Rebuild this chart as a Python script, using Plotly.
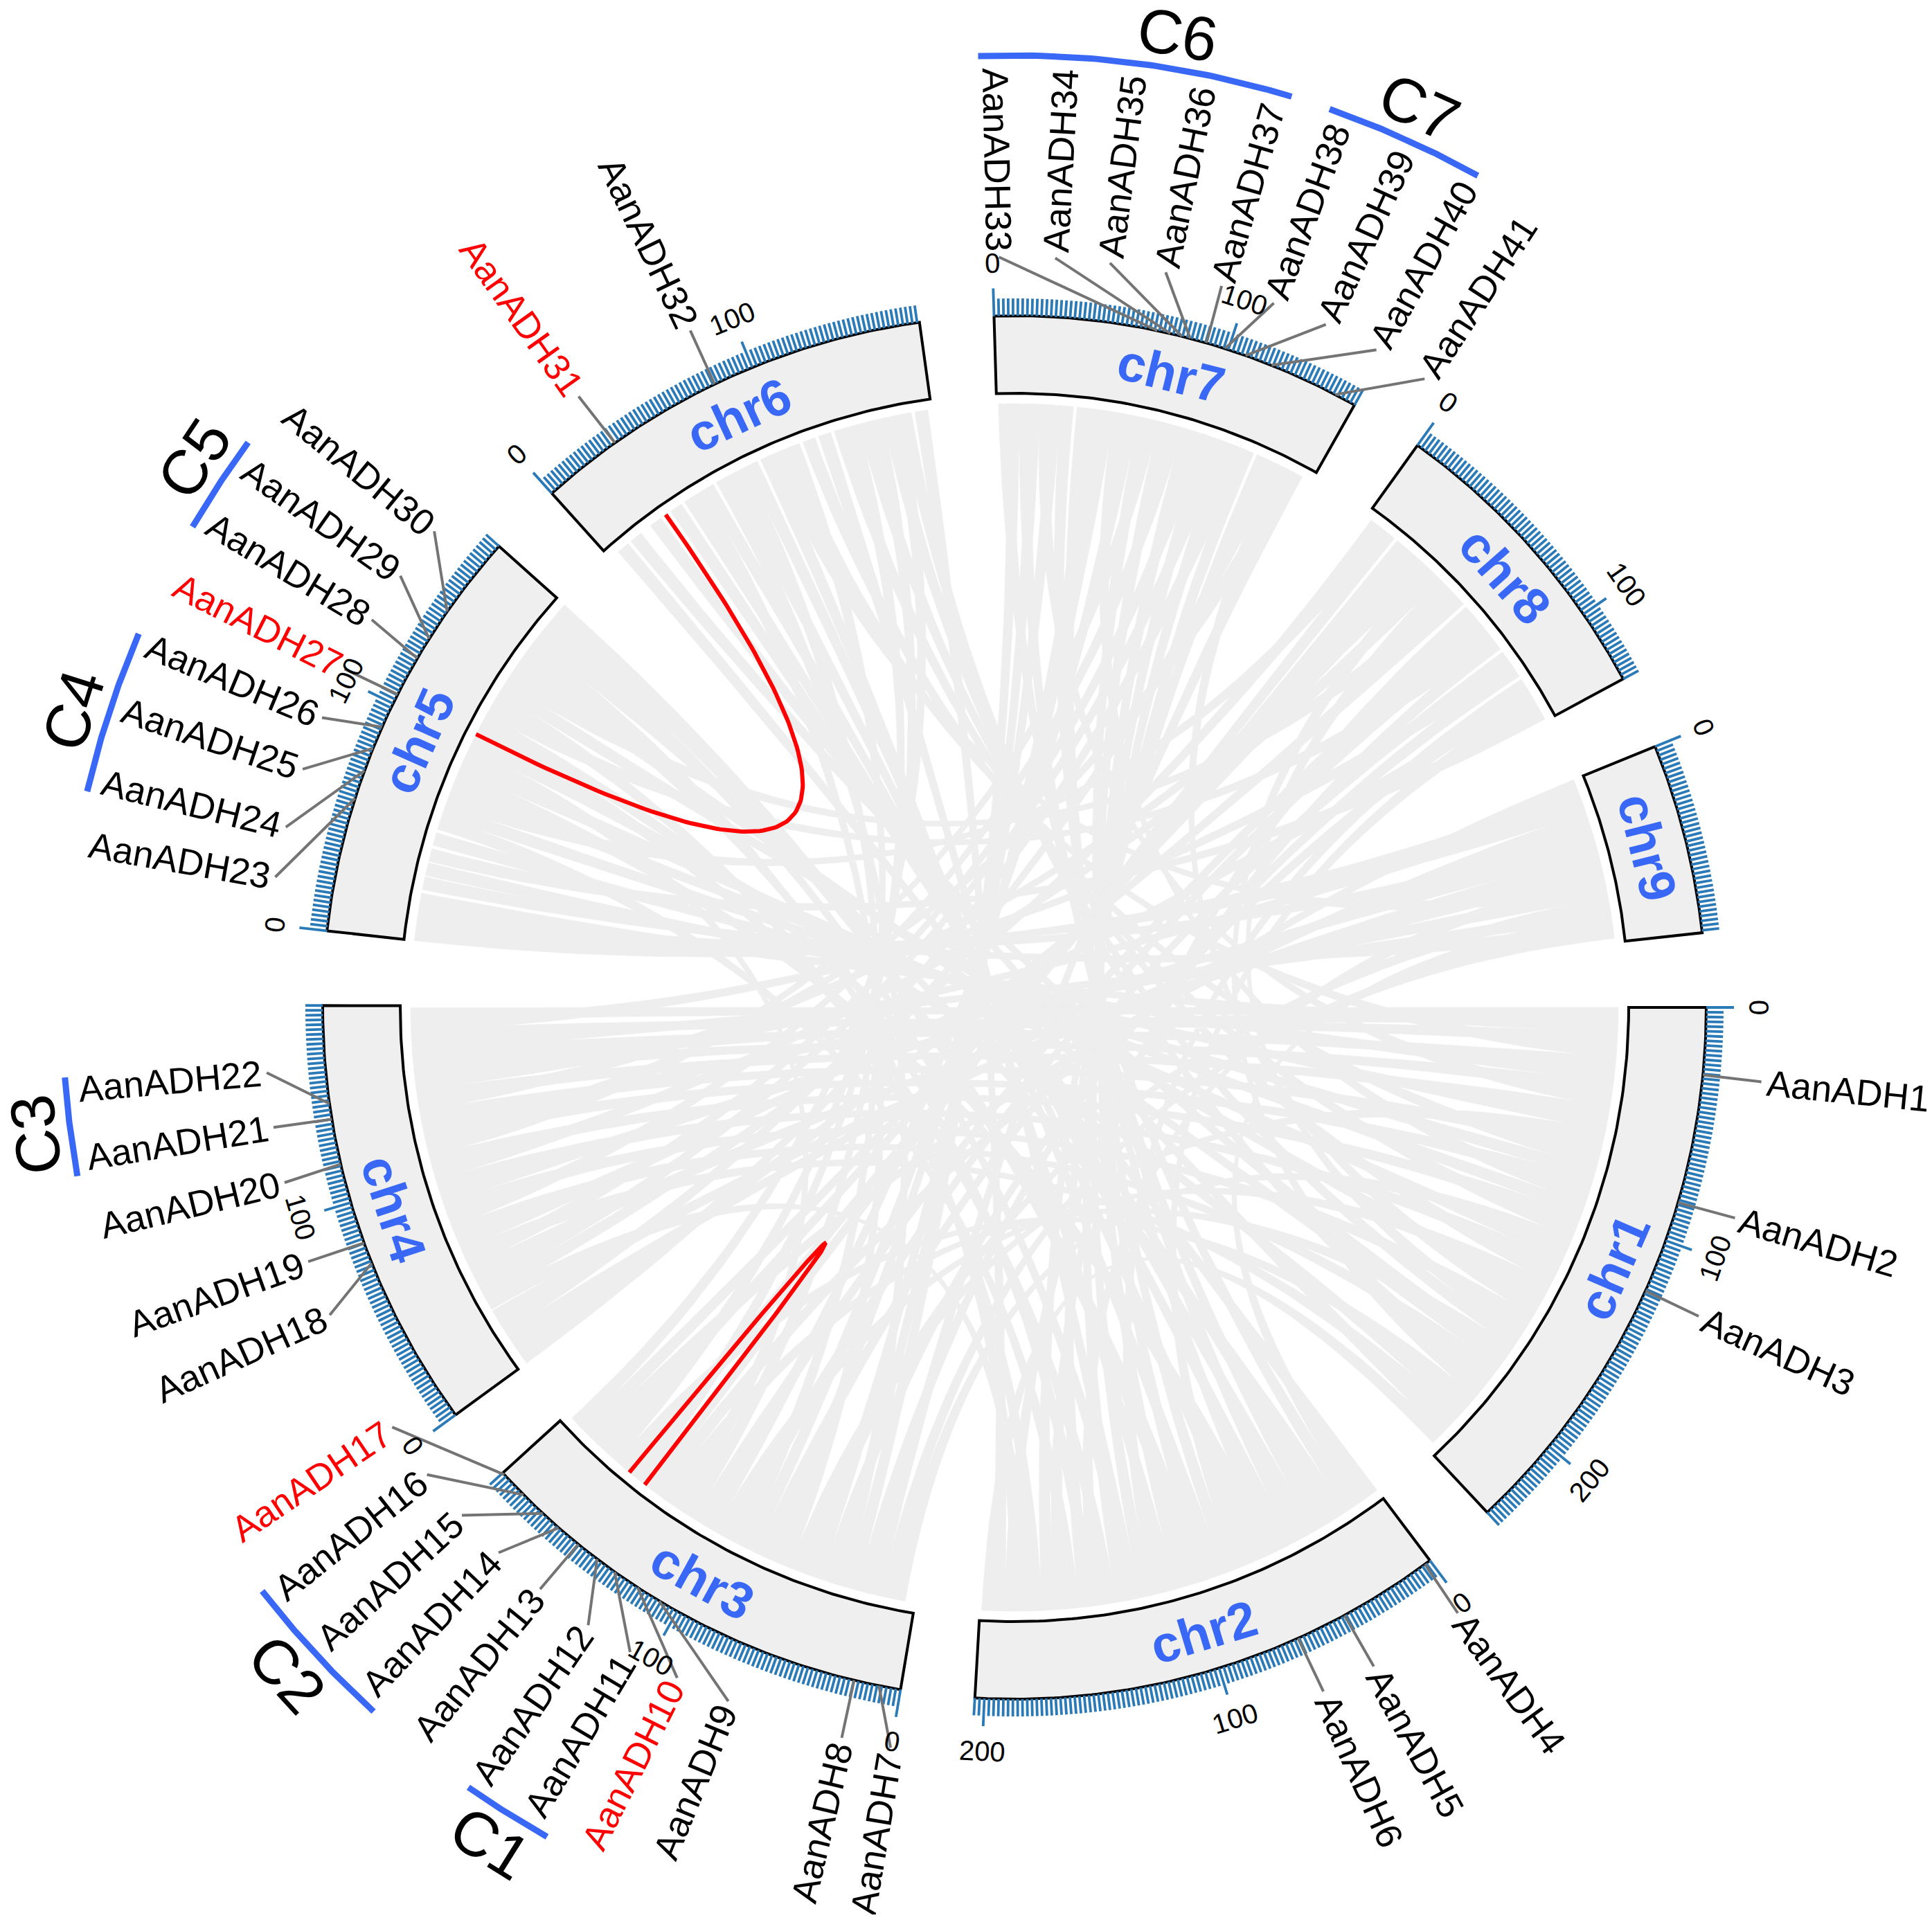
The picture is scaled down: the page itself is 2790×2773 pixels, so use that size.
import numpy as np
import plotly.graph_objects as go

# ---- data ----------------------------------------------------------------
chrom_names = ["chr1", "chr2", "chr3", "chr4", "chr5", "chr6", "chr7", "chr8", "chr9"]
chrom_lengths = [238, 204, 194, 184, 180, 173, 158, 132, 81]
tick_step_major = 100
tick_step_minor = 2

gene_names = ["AanADH1", "AanADH2", "AanADH3", "AanADH4", "AanADH5", "AanADH6",
              "AanADH7", "AanADH8", "AanADH9", "AanADH10", "AanADH11", "AanADH12",
              "AanADH13", "AanADH14", "AanADH15", "AanADH16", "AanADH17", "AanADH18",
              "AanADH19", "AanADH20", "AanADH21", "AanADH22", "AanADH23", "AanADH24",
              "AanADH25", "AanADH26", "AanADH27", "AanADH28", "AanADH29", "AanADH30",
              "AanADH31", "AanADH32", "AanADH33", "AanADH34", "AanADH35", "AanADH36",
              "AanADH37", "AanADH38", "AanADH39", "AanADH40", "AanADH41"]
gene_chrom = (["chr1"] * 3 + ["chr2"] * 3 + ["chr3"] * 11 + ["chr4"] * 5
              + ["chr5"] * 8 + ["chr6"] * 2 + ["chr7"] * 9)
gene_pos = [28.4, 83.2, 122.8,
            2.6, 42.7, 64.5,
            9.2, 19.9, 108.7, 119.4, 131.1, 140.2, 150.3, 161.0, 170.1, 181.3, 193.0,
            73.1, 82.2, 116.7, 136.0, 142.6,
            57.1, 69.3, 79.4, 89.1, 104.3, 121.6, 131.2, 144.9,
            34.0, 82.7,
            69.1, 74.7, 79.7, 83.3, 90.4, 98.5, 107.7, 119.3, 148.8]
# where each label sits (same units, after spreading the crowded labels)
label_pos = [28.9, 82.7, 123.3,
             3.6, 42.2, 64.0,
             0.1, 19.4, 65.6, 87.4, 108.2, 127.5, 150.8, 172.2, 192.5, 213.3, 236.1,
             60.4, 82.7, 114.7, 136.5, 157.9,
             18.5, 38.3, 61.7, 83.0, 103.8, 125.6, 145.9, 167.6,
             32.9, 83.2,
             2.6, 24.4, 45.7, 67.6, 89.9, 111.2, 133.0, 154.9, 176.7]
red_genes = ["AanADH10", "AanADH17", "AanADH27", "AanADH31"]

# highlighted (red) links: chrom A, pos A, chrom B, pos B
red_link_a_chrom = ["chr5", "chr3"]
red_link_a_pos = [104.3, 143.5]
red_link_b_chrom = ["chr6", "chr3"]
red_link_b_pos = [34.0, 153.0]

# clade brackets
clade_names = ["C1", "C2", "C3", "C4", "C5", "C6", "C7"]
clade_chrom = ["chr3", "chr3", "chr4", "chr5", "chr5", "chr7", "chr7"]
clade_start = [101.1, 166.6, 131.4, 34.3, 121.6, -2.5, 106.7]
clade_end = [129.5, 216.8, 161.8, 85.0, 152.5, 94.5, 156.4]
clade_text_pos = [114.8, 193.0, 145.7, 56.6, 139.3, 56.9, 131.5]

# grey collinear blocks: (chrom A, centre A, chrom B, centre B)
block_size = 6.3
synteny = [
    ("chr1", 3, "chr4", 180), ("chr1", 9, "chr5", 20), ("chr1", 15, "chr4", 170),
    ("chr1", 21, "chr6", 100), ("chr1", 27, "chr4", 160), ("chr1", 33, "chr5", 35),
    ("chr1", 39, "chr4", 150), ("chr1", 45, "chr7", 24), ("chr1", 51, "chr4", 140),
    ("chr1", 57, "chr5", 50), ("chr1", 63, "chr3", 60), ("chr1", 69, "chr4", 130),
    ("chr1", 75, "chr6", 112), ("chr1", 81, "chr5", 64), ("chr1", 87, "chr4", 120),
    ("chr1", 93, "chr7", 60), ("chr1", 99, "chr5", 76), ("chr1", 105, "chr4", 108),
    ("chr1", 111, "chr6", 128), ("chr1", 117, "chr3", 8), ("chr1", 123, "chr5", 88),
    ("chr1", 129, "chr4", 96), ("chr1", 135, "chr6", 140), ("chr1", 141, "chr3", 100),
    ("chr1", 147, "chr5", 130), ("chr1", 153, "chr7", 142), ("chr1", 159, "chr4", 84),
    ("chr1", 165, "chr8", 50), ("chr1", 171, "chr6", 152), ("chr1", 177, "chr3", 130),
    ("chr1", 183, "chr5", 142), ("chr1", 189, "chr4", 72), ("chr1", 195, "chr6", 160),
    ("chr1", 201, "chr8", 40), ("chr1", 207, "chr3", 158), ("chr1", 213, "chr5", 100),
    ("chr1", 219, "chr4", 60), ("chr1", 225, "chr6", 28), ("chr1", 231, "chr2", 200),
    ("chr1", 6, "chr4", 155),
    ("chr2", 3, "chr6", 8), ("chr2", 9, "chr9", 70), ("chr2", 15, "chr7", 4),
    ("chr2", 21, "chr5", 160), ("chr2", 27, "chr6", 40), ("chr2", 33, "chr7", 14),
    ("chr2", 39, "chr6", 48), ("chr2", 45, "chr7", 34), ("chr2", 51, "chr6", 58),
    ("chr2", 57, "chr7", 42), ("chr2", 63, "chr5", 112), ("chr2", 69, "chr6", 70),
    ("chr2", 75, "chr8", 122), ("chr2", 81, "chr7", 72), ("chr2", 87, "chr6", 82),
    ("chr2", 93, "chr7", 82), ("chr2", 99, "chr5", 172), ("chr2", 105, "chr7", 94),
    ("chr2", 111, "chr6", 90), ("chr2", 117, "chr8", 112), ("chr2", 123, "chr7", 104),
    ("chr2", 129, "chr6", 120), ("chr2", 135, "chr7", 114), ("chr2", 141, "chr5", 106),
    ("chr2", 147, "chr9", 50), ("chr2", 153, "chr7", 124), ("chr2", 159, "chr5", 58),
    ("chr2", 165, "chr8", 68), ("chr2", 171, "chr7", 132), ("chr2", 177, "chr5", 124),
    ("chr2", 183, "chr4", 34), ("chr2", 189, "chr8", 88), ("chr2", 195, "chr6", 168),
    ("chr3", 14, "chr9", 76), ("chr3", 20, "chr7", 150), ("chr3", 26, "chr8", 104),
    ("chr3", 32, "chr7", 8), ("chr3", 38, "chr6", 66), ("chr3", 44, "chr8", 116),
    ("chr3", 50, "chr7", 28), ("chr3", 56, "chr9", 62), ("chr3", 66, "chr6", 52),
    ("chr3", 72, "chr7", 48), ("chr3", 78, "chr8", 96), ("chr3", 84, "chr7", 54),
    ("chr3", 90, "chr6", 76), ("chr3", 94, "chr8", 80), ("chr3", 106, "chr7", 66),
    ("chr3", 112, "chr8", 74), ("chr3", 118, "chr6", 104), ("chr3", 124, "chr5", 94),
    ("chr3", 136, "chr9", 2), ("chr3", 142, "chr8", 14), ("chr3", 148, "chr6", 134),
    ("chr3", 152, "chr8", 22), ("chr3", 164, "chr6", 146), ("chr3", 170, "chr8", 28),
    ("chr3", 176, "chr9", 20), ("chr3", 182, "chr8", 34), ("chr3", 188, "chr6", 156),
    ("chr4", 3, "chr7", 138), ("chr4", 9, "chr8", 60), ("chr4", 15, "chr9", 26),
    ("chr4", 21, "chr7", 120), ("chr4", 27, "chr9", 40), ("chr4", 39, "chr8", 6),
    ("chr4", 45, "chr7", 110), ("chr4", 51, "chr9", 46), ("chr4", 57, "chr7", 100),
    ("chr4", 66, "chr8", 118), ("chr4", 78, "chr7", 88), ("chr4", 90, "chr9", 34),
    ("chr4", 102, "chr8", 44), ("chr4", 114, "chr7", 76), ("chr4", 126, "chr9", 56),
    ("chr4", 136, "chr8", 36), ("chr4", 146, "chr9", 12), ("chr4", 165, "chr9", 66),
    ("chr4", 175, "chr8", 100),
    ("chr5", 3, "chr9", 8), ("chr5", 9, "chr9", 14), ("chr5", 14, "chr9", 30),
    ("chr5", 28, "chr9", 74), ("chr5", 42, "chr8", 128), ("chr5", 70, "chr8", 10),
    ("chr5", 82, "chr2", 60), ("chr5", 118, "chr8", 84), ("chr5", 136, "chr8", 56),
    ("chr5", 148, "chr2", 150), ("chr5", 154, "chr2", 186), ("chr5", 166, "chr2", 130),
    ("chr5", 178, "chr2", 96),
    ("chr6", 94, "chr9", 52), ("chr6", 16, "chr1", 180), ("chr7", 18, "chr3", 40),
    ("chr7", 146, "chr4", 120),
]

# ---- layout of the circle ------------------------------------------------
GAP = 6.2
DEG = (360 - GAP * len(chrom_names)) / sum(chrom_lengths)
CX, CY = 1465, 1455
R_IN, R_OUT = 887, 999
R_LINK = 872
R_LABEL_LINE = 1084
R_LABEL_TXT = 1092
R_CLADE = 1375
R_CLADE_TXT = 1425
MINOR_LEN, MAJOR_LEN = 25, 40

FONT = "Liberation Sans, Arial, sans-serif"
BLUE = "#3868F5"
TICK = "#2A7AB8"
GREY = "#EEEEEE"

chrom_start = {}
acc = 0.0
for nm, ln in zip(chrom_names, chrom_lengths):
    chrom_start[nm] = acc
    acc += ln * DEG + GAP
chrom_len = dict(zip(chrom_names, chrom_lengths))

CHAR_W = {"A": .667, "a": .556, "n": .556, "D": .722, "H": .722, "C": .722,
          "c": .5, "h": .556, "r": .333}


def text_len(s, size):
    return size * sum(CHAR_W.get(ch, .556) for ch in s)


def ang(chrom, pos):
    return chrom_start[chrom] + pos * DEG


def polar(theta, r):
    t = np.radians(theta)
    return CX + r * np.cos(t), CY + r * np.sin(t)


def arc(t0, t1, r, n=50):
    return polar(np.linspace(t0, t1, n), r)


def bezier(t0, t1, r, n=60):
    x0, y0 = polar(t0, r)
    x2, y2 = polar(t1, r)
    s = np.linspace(0, 1, n)
    x = (1 - s) ** 2 * x0 + 2 * s * (1 - s) * CX + s ** 2 * x2
    y = (1 - s) ** 2 * y0 + 2 * s * (1 - s) * CY + s ** 2 * y2
    return x, y


def block(chrom, pos):
    lo = max(0, pos - block_size / 2)
    hi = min(chrom_len[chrom], pos + block_size / 2)
    return ang(chrom, lo), ang(chrom, hi)


def tangent_angle(theta):
    # keep tangential text readable
    theta = theta % 360
    return theta - 90 if 0 < theta < 180 else theta + 90


def radial_angle(theta):
    theta = theta % 360
    if 90 < theta < 270:
        return theta - 180
    return theta if theta <= 90 else theta - 360


fig = go.Figure()

# grey ribbons (one filled trace, polygons separated by gaps)
rib_x, rib_y = [], []
for ca, pa, cb, pb in synteny:
    ta1, ta2 = block(ca, pa)
    tb1, tb2 = block(cb, pb)
    parts = [arc(ta1, ta2, R_LINK, 12), bezier(ta2, tb1, R_LINK, 50),
             arc(tb1, tb2, R_LINK, 12), bezier(tb2, ta1, R_LINK, 50)]
    for px, py in parts:
        rib_x += list(px)
        rib_y += list(py)
    rib_x.append(None)
    rib_y.append(None)
fig.add_trace(go.Scatter(x=rib_x, y=rib_y, mode="lines", fill="toself", fillcolor=GREY,
                         line=dict(color=GREY, width=0.5), hoverinfo="skip"))

# red links
for ca, pa, cb, pb in zip(red_link_a_chrom, red_link_a_pos, red_link_b_chrom, red_link_b_pos):
    x, y = bezier(ang(ca, pa), ang(cb, pb), R_LINK, n=120)
    fig.add_trace(go.Scatter(x=x, y=y, mode="lines", line=dict(color="#FF0000", width=6),
                             hoverinfo="skip"))

# chromosome boxes
for nm in chrom_names:
    t0, t1 = ang(nm, 0), ang(nm, chrom_len[nm])
    xo, yo = arc(t0, t1, R_OUT, 80)
    xi, yi = arc(t1, t0, R_IN, 80)
    fig.add_trace(go.Scatter(x=np.r_[xo, xi, xo[:1]], y=np.r_[yo, yi, yo[:1]], mode="lines",
                             fill="toself", fillcolor="#EFEFEF",
                             line=dict(color="black", width=4), hoverinfo="skip"))

# axis ticks
minor_x, minor_y, major_x, major_y = [], [], [], []
annotations = []
for nm in chrom_names:
    for p in range(0, chrom_len[nm] + 1, tick_step_minor):
        th = ang(nm, p)
        if p % tick_step_major == 0:
            xa, ya = polar(th, R_OUT)
            xb, yb = polar(th, R_OUT + MAJOR_LEN)
            major_x += [xa, xb, None]
            major_y += [ya, yb, None]
            tx, ty = polar(th, R_OUT + 76)
            annotations.append(dict(x=tx, y=ty, text=str(p), showarrow=False,
                                    textangle=tangent_angle(th),
                                    font=dict(family=FONT, size=40, color="black")))
        else:
            xa, ya = polar(th, R_OUT)
            xb, yb = polar(th, R_OUT + MINOR_LEN)
            minor_x += [xa, xb, None]
            minor_y += [ya, yb, None]
fig.add_trace(go.Scatter(x=minor_x, y=minor_y, mode="lines",
                         line=dict(color=TICK, width=3.8), hoverinfo="skip"))
fig.add_trace(go.Scatter(x=major_x, y=major_y, mode="lines",
                         line=dict(color=TICK, width=3.8), hoverinfo="skip"))

# chromosome names
for nm in chrom_names:
    th = ang(nm, chrom_len[nm] / 2)
    x, y = polar(th, (R_IN + R_OUT) / 2)
    annotations.append(dict(x=x, y=y, text="<b>%s</b>" % nm, showarrow=False,
                            textangle=tangent_angle(th),
                            font=dict(family=FONT, size=74, color=BLUE)))

# gene labels with connectors
con_x, con_y = [], []
for nm, ch, gp, lp in zip(gene_names, gene_chrom, gene_pos, label_pos):
    tg, tl = ang(ch, gp), ang(ch, lp)
    xa, ya = polar(tg, R_OUT)
    xb, yb = polar(tl, R_LABEL_LINE)
    con_x += [xa, xb, None]
    con_y += [ya, yb, None]
    size = 53
    x, y = polar(tl, R_LABEL_TXT + text_len(nm, size) / 2)
    annotations.append(dict(x=x, y=y, text=nm, showarrow=False,
                            textangle=radial_angle(tl),
                            font=dict(family=FONT, size=size,
                                      color="#FF0000" if nm in red_genes else "black")))
fig.add_trace(go.Scatter(x=con_x, y=con_y, mode="lines",
                         line=dict(color="#747474", width=4), hoverinfo="skip"))

# clade brackets
for nm, ch, s, e, tp in zip(clade_names, clade_chrom, clade_start, clade_end, clade_text_pos):
    x, y = arc(ang(ch, s), ang(ch, e), R_CLADE, 60)
    fig.add_trace(go.Scatter(x=x, y=y, mode="lines", line=dict(color=BLUE, width=9),
                             hoverinfo="skip"))
    th = ang(ch, tp)
    tx, ty = polar(th, R_CLADE_TXT)
    rot = th - 90 if th < 150 else th + 90
    rot = (rot + 180) % 360 - 180
    annotations.append(dict(x=tx, y=ty, text=nm, showarrow=False, textangle=rot,
                            font=dict(family=FONT, size=90, color="black")))

for a in annotations:
    a.update(xref="x", yref="y", xanchor="center", yanchor="middle")

W, H = 2790, 2773
PAD = 8  # default body margin of the html page
fig.update_layout(
    width=W - 2 * PAD, height=H - 2 * PAD,
    margin=dict(l=0, r=0, t=0, b=0),
    paper_bgcolor="white", plot_bgcolor="white",
    showlegend=False, hovermode=False,
    annotations=annotations,
    xaxis=dict(range=[PAD, W - PAD], visible=False, fixedrange=True),
    yaxis=dict(range=[H - PAD, PAD], visible=False, fixedrange=True),
)

fig.write_html("out.html")
